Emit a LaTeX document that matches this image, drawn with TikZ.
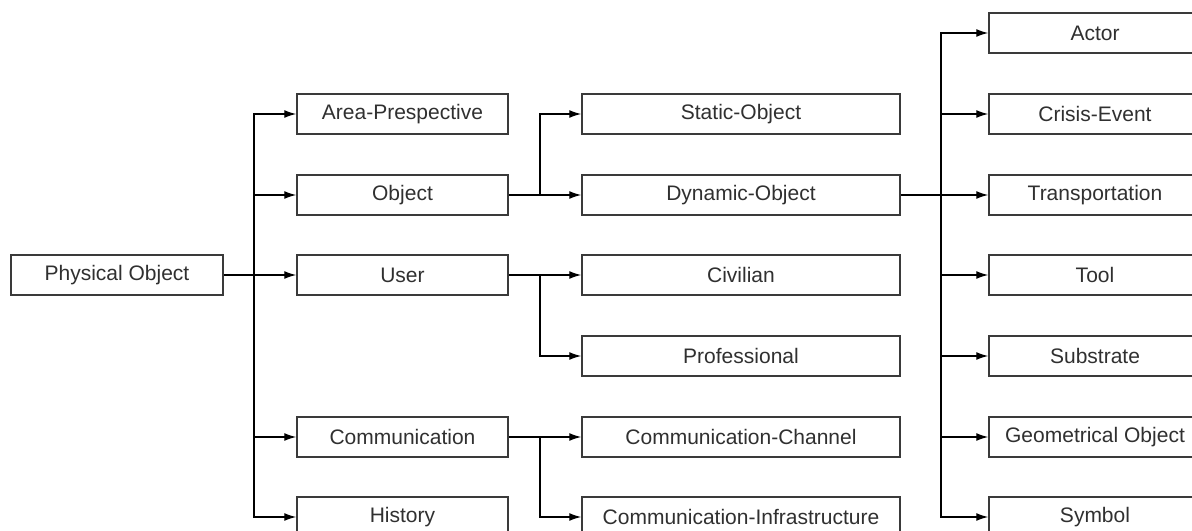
\documentclass[tikz,border=0pt]{standalone}
\usepackage{fontspec}
\setmainfont{Liberation Sans}
\usetikzlibrary{arrows.meta}
\definecolor{boxline}{HTML}{3A3A3A}
\definecolor{txt}{HTML}{303030}
\begin{document}
\begin{tikzpicture}[x=1bp,y=-1bp,
  box/.style={draw=boxline,line width=1.5bp,fill=white,rectangle,
    minimum height=40bp,inner sep=0pt,text=txt,
    font=\fontsize{21bp}{25bp}\selectfont},
  wbox/.style={box,minimum width=212bp},
  mbox/.style={box,minimum width=211bp},
  lbox/.style={box,minimum width=318bp},
  stem/.style={line width=2.2bp,black},
  branch/.style={line width=1.3bp,black,-{Latex[length=12bp,width=8bp]}}]
\useasboundingbox (0,0) rectangle (1192,531);
\clip (0,0) rectangle (1192,531);

% root
\node[wbox] (phys) at (117,275) {Physical Object};

% second level
\node[mbox] (area) at (402.5,114) {Area-Prespective};
\node[mbox] (obj)  at (402.5,195) {Object};
\node[mbox] (user) at (402.5,275) {User};
\node[mbox] (comm) at (402.5,437) {Communication};
\node[mbox] (hist) at (402.5,517) {History};

% third level
\node[lbox] (stat) at (741,114) {Static-Object};
\node[lbox] (dyn)  at (741,195) {Dynamic-Object};
\node[lbox] (civ)  at (741,275) {Civilian};
\node[lbox] (prof) at (741,356) {Professional};
\node[lbox] (chan) at (741,437) {Communication-Channel};
\node[lbox] (infr) at (741,517) {Communication-Infrastructure};

% kinds of dynamic objects
\node[wbox] (actor) at (1095,33)  {Actor};
\node[wbox] (cris)  at (1095,114) {Crisis-Event};
\node[wbox] (trans) at (1095,195) {Transportation};
\node[wbox] (tool)  at (1095,275) {Tool};
\node[wbox] (subs)  at (1095,356) {Substrate};
\node[wbox] (geo)   at (1095,437) {Geometrical Object};
\node[wbox] (sym)   at (1095,517) {Symbol};

% junction points
\coordinate (j1) at (254,275);
\coordinate (j2) at (540,195);
\coordinate (j3) at (540,275);
\coordinate (j4) at (540,437);
\coordinate (j5) at (941,195);

% connectors
\draw[stem] (phys.east) -- (j1);
\foreach \c in {area,obj,user,comm,hist} \draw[branch] (j1) |- (\c.west);

\draw[stem] (obj.east) -- (j2);
\foreach \c in {stat,dyn} \draw[branch] (j2) |- (\c.west);

\draw[stem] (user.east) -- (j3);
\foreach \c in {civ,prof} \draw[branch] (j3) |- (\c.west);

\draw[stem] (comm.east) -- (j4);
\foreach \c in {chan,infr} \draw[branch] (j4) |- (\c.west);

\draw[stem] (dyn.east) -- (j5);
\foreach \c in {actor,cris,trans,tool,subs,geo,sym} \draw[branch] (j5) |- (\c.west);
\end{tikzpicture}
\end{document}
